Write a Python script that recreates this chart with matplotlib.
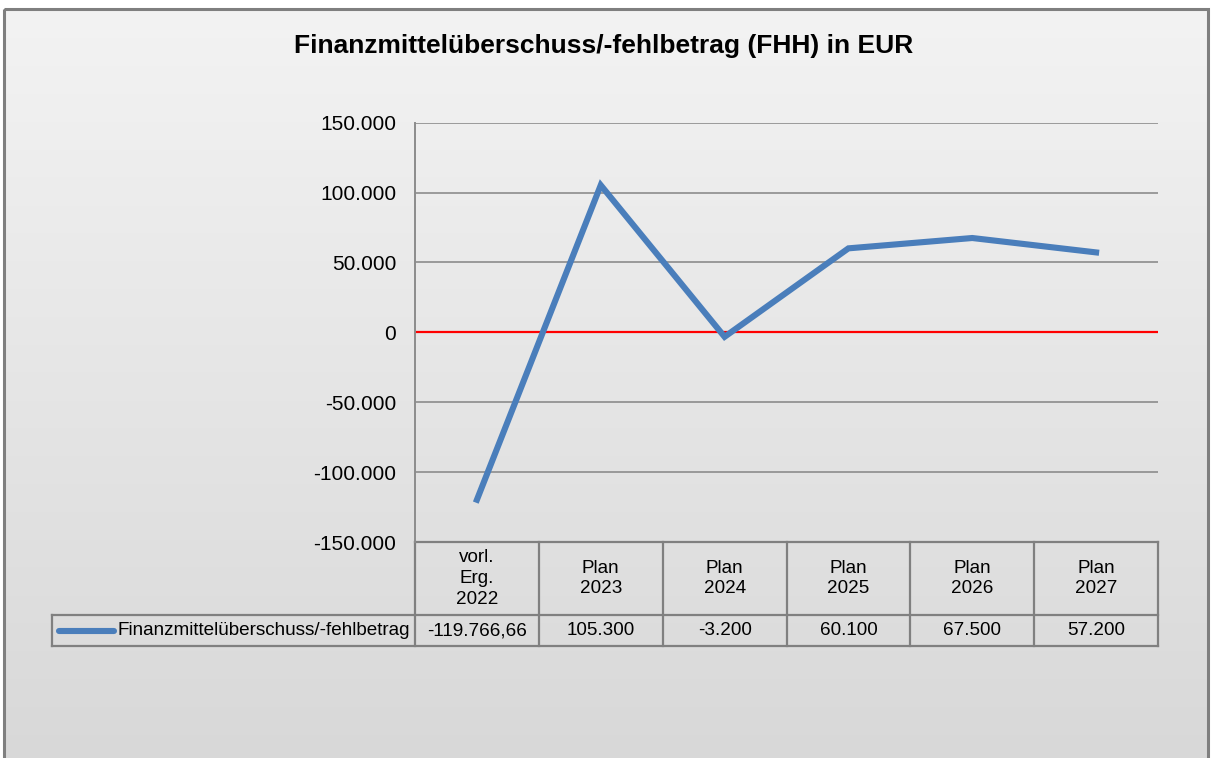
import numpy as np
import matplotlib
matplotlib.use('Agg')
import matplotlib.pyplot as plt
from matplotlib import transforms
from matplotlib.patches import Rectangle
from matplotlib.ticker import FuncFormatter

plt.rcParams['font.family'] = ['Liberation Sans', 'DejaVu Sans']

# Daten
kategorien = ['vorl.\nErg.\n2022', 'Plan\n2023', 'Plan\n2024', 'Plan\n2025', 'Plan\n2026', 'Plan\n2027']
werte = [-119766.66, 105300, -3200, 60100, 67500, 57200]
werte_text = ['-119.766,66', '105.300', '-3.200', '60.100', '67.500', '57.200']
serie = 'Finanzmittelüberschuss/-fehlbetrag'
titel = 'Finanzmittelüberschuss/-fehlbetrag (FHH) in EUR'
y_ticks = [-150000, -100000, -50000, 0, 50000, 100000, 150000]

W, H = 1213, 758
fig = plt.figure(figsize=(W / 100, H / 100), dpi=100)
fig.patch.set_facecolor('white')

# Hintergrund mit Verlauf + Rahmen
bg = fig.add_axes([0, 0, 1, 1])
bg.set_xlim(0, W)
bg.set_ylim(H, 0)
bg.axis('off')
grad = np.linspace(0, 1, 256).reshape(-1, 1)
cmap = matplotlib.colors.LinearSegmentedColormap.from_list('g', ['#f3f3f3', '#d8d8d8'])
bg.imshow(grad, cmap=cmap, extent=[4, 1208, 764, 9], aspect='auto')
bg.add_patch(Rectangle((4, 9), 1204, 760, fill=False, edgecolor='#7f7f7f', lw=2.2))
bg.text(604, 46, titel, ha='center', va='center', fontsize=19, fontweight='bold')

# Diagramm
left, right, top, bottom = 415, 1158, 122.7, 542
ax = fig.add_axes([left / W, 1 - bottom / H, (right - left) / W, (bottom - top) / H])
ax.set_facecolor('none')
x = np.arange(len(werte))
ax.set_xlim(-0.5, len(werte) - 0.5)
ax.set_ylim(-150000, 150000)
ax.set_yticks(y_ticks)
ax.yaxis.set_major_formatter(FuncFormatter(lambda v, p: f'{int(v):,}'.replace(',', '.')))
ax.tick_params(axis='y', length=0, pad=13.5, labelsize=15)
ax.set_xticks([])
for s in ['top', 'right', 'bottom']:
    ax.spines[s].set_visible(False)
ax.spines['left'].set_color('#8c8c8c')
ax.spines['left'].set_linewidth(1.4)
for t in y_ticks:
    if t != 0:
        ax.axhline(t, color='#8c8c8c', lw=1.2, zorder=1)
ax.axhline(0, color='#ff0000', lw=1.6, zorder=2)
ax.plot(x, werte, color='#4a7ebb', lw=4.4, zorder=3, solid_joinstyle='miter')

# Datentabelle
tr = transforms.blended_transform_factory(ax.transData, ax.transAxes)
h = bottom - top
r1 = -73 / h
r2 = -104 / h
lc = '#808080'
lw_t = 1.6
grenzen = np.arange(len(werte) + 1) - 0.5
legend_x = -0.5 - (left - 52) / 124
ax.plot([-0.5, grenzen[-1]], [0, 0], transform=tr, color=lc, lw=lw_t, clip_on=False)
ax.plot([legend_x, grenzen[-1]], [r1, r1], transform=tr, color=lc, lw=lw_t, clip_on=False)
ax.plot([legend_x, grenzen[-1]], [r2, r2], transform=tr, color=lc, lw=lw_t, clip_on=False)
ax.plot([legend_x, legend_x], [r1, r2], transform=tr, color=lc, lw=lw_t, clip_on=False)
for g in grenzen:
    ax.plot([g, g], [0, r2], transform=tr, color=lc, lw=lw_t, clip_on=False)
for i in range(len(werte)):
    ax.text(x[i], r1 / 2, kategorien[i], transform=tr, ha='center', va='center',
            fontsize=13.6, linespacing=1.28)
    ax.text(x[i], (r1 + r2) / 2, werte_text[i], transform=tr, ha='center', va='center',
            fontsize=13.6)
ax.plot([legend_x + 0.05, legend_x + 0.5], [(r1 + r2) / 2] * 2, transform=tr,
        color='#4a7ebb', lw=4.4, solid_capstyle='round', clip_on=False)
ax.text(-0.54, (r1 + r2) / 2, serie, transform=tr, ha='right', va='center', fontsize=13.6)

fig.savefig('out.png', dpi=100)
